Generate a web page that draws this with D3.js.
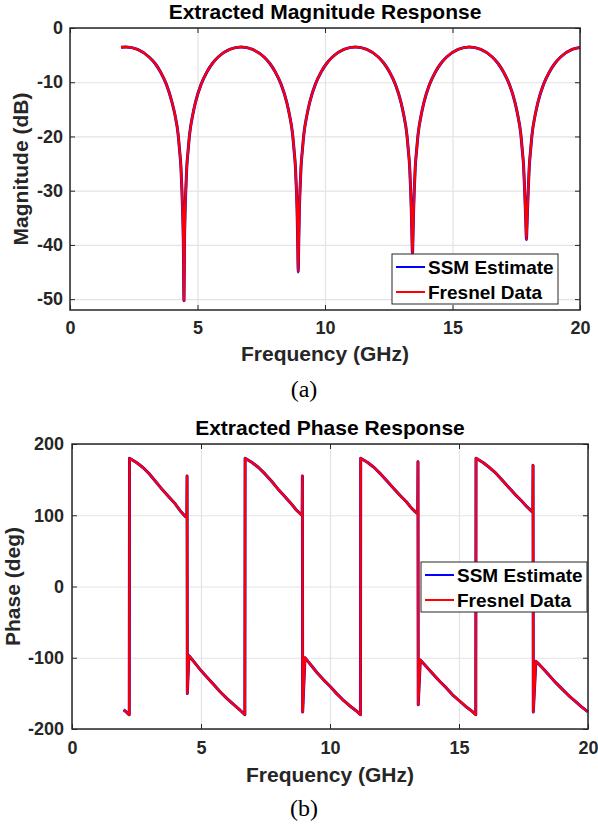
<!DOCTYPE html>
<html>
<head>
<meta charset="utf-8">
<script src="https://cdn.jsdelivr.net/npm/d3@7"></script>
<style>
  body { margin: 0; background: #fff; }
  svg { display: block; }
  text { font-family: "Liberation Sans", Arial, Helvetica, sans-serif; }
  text.caption { font-family: "Liberation Serif", "Times New Roman", serif; }
</style>
</head>
<body>
<svg id="chart" width="598" height="827"></svg>
<script>
// Magnitude response (dB) vs frequency (GHz)
const magFreq = [2.0, 2.2, 2.65, 3.1, 3.33, 3.55, 3.78, 4.0, 4.12, 4.24, 4.30, 4.35, 4.39, 4.415, 4.445, 4.47,
  4.49, 4.515, 4.54, 4.58, 4.63, 4.69, 4.81, 4.92, 5.14, 5.37, 5.59, 5.81, 6.26, 6.71,
  7.16, 7.61, 7.83, 8.05, 8.28, 8.50, 8.61, 8.73, 8.79, 8.84, 8.88, 8.905, 8.93, 8.95,
  8.97, 8.995, 9.02, 9.06, 9.11, 9.17, 9.29, 9.40, 9.62, 9.85, 10.07, 10.29, 10.74, 11.19,
  11.64, 12.09, 12.31, 12.53, 12.76, 12.98, 13.09, 13.21, 13.27, 13.32, 13.36, 13.385, 13.41, 13.43,
  13.45, 13.475, 13.50, 13.54, 13.59, 13.65, 13.77, 13.88, 14.10, 14.33, 14.55, 14.77, 15.22, 15.66,
  16.11, 16.56, 16.78, 17.00, 17.23, 17.45, 17.56, 17.68, 17.74, 17.79, 17.83, 17.855, 17.88, 17.90,
  17.92, 17.945, 17.97, 18.01, 18.06, 18.12, 18.24, 18.35, 18.57, 18.80, 19.02, 19.24, 19.69, 20.0];
const magFresnel = [-3.55, -3.5, -3.95, -5.35, -6.5, -8.1, -10.4, -13.7, -16.1, -19.6, -22.7, -25.6, -30.0, -33.6, -39.6, -50.3,
  -39.6, -33.6, -30.0, -25.6, -22.7, -19.6, -16.1, -13.7, -10.4, -8.1, -6.5, -5.35, -3.95, -3.5,
  -3.95, -5.35, -6.5, -8.1, -10.4, -13.7, -16.1, -19.6, -22.7, -25.6, -30.0, -33.6, -39.6, -45.0,
  -39.6, -33.6, -30.0, -25.6, -22.7, -19.6, -16.1, -13.7, -10.4, -8.1, -6.5, -5.35, -3.95, -3.5,
  -3.95, -5.35, -6.5, -8.1, -10.4, -13.7, -16.1, -19.6, -22.7, -25.6, -30.0, -33.6, -38.5, -41.8,
  -38.5, -33.6, -30.0, -25.6, -22.7, -19.6, -16.1, -13.7, -10.4, -8.1, -6.5, -5.35, -3.95, -3.5,
  -3.95, -5.35, -6.5, -8.1, -10.4, -13.7, -16.1, -19.6, -22.7, -25.6, -30.0, -33.1, -36.5, -39.0,
  -36.5, -33.1, -30.0, -25.6, -22.7, -19.6, -16.1, -13.7, -10.4, -8.1, -6.5, -5.35, -3.95, -3.6];
// SSM estimate lies on top of the Fresnel data everywhere in the figure
const magSSM = magFresnel.slice();

// Phase response (deg) vs frequency (GHz)
const phaseFreq = [2.0, 2.1, 2.2, 2.22, 2.23, 2.5, 2.75, 3.0, 3.25, 3.5, 3.75, 4.0, 4.2, 4.4, 4.45, 4.46, 4.47, 4.53, 4.6, 4.8, 5.0, 5.25, 5.5, 5.75, 6.0, 6.25, 6.5, 6.7,
  6.71, 6.98, 7.23, 7.48, 7.73, 7.98, 8.23, 8.48, 8.68, 8.88, 8.92, 8.93, 8.94, 9.03, 9.1, 9.3, 9.5, 9.75, 10.0, 10.25, 10.5, 10.75, 11.0, 11.18,
  11.19, 11.46, 11.71, 11.96, 12.21, 12.46, 12.71, 12.96, 13.16, 13.36, 13.4, 13.41, 13.42, 13.5, 13.6, 13.8, 14.0, 14.25, 14.5, 14.75, 15.0, 15.25, 15.5, 15.65,
  15.66, 15.93, 16.18, 16.43, 16.68, 16.93, 17.18, 17.43, 17.63, 17.83, 17.86, 17.87, 17.88, 17.98, 18.1, 18.3, 18.5, 18.75, 19.0, 19.25, 19.5, 19.75, 20.0];
const phaseFresnel = [-173, -176, -179.5, -180, 180, 174, 167, 158, 147, 136, 126, 116, 106, 98, 97, 155, -150, -97, -100, -109, -118, -128, -138, -148, -157, -165, -173, -180,
  180, 174, 167, 158, 148, 137, 127, 117, 108, 101, 100, 155, -176, -100, -103, -112, -121, -131, -140, -150, -159, -167, -174, -180,
  180, 174, 167, 158, 148, 138, 128, 119, 110, 103, 102, 175, -166, -103, -107, -115, -123, -133, -142, -152, -160, -168, -175, -180,
  180, 174, 167, 159, 149, 139, 129, 120, 112, 105, 104, 170, -176, -105, -109, -117, -125, -135, -144, -153, -161, -169, -176];
const phaseSSM = phaseFresnel.slice();

const xTicks = [0, 5, 10, 15, 20];
const magTicks = [-50, -40, -30, -20, -10, 0];
const phaseTicks = [-200, -100, 0, 100, 200];
const legendLabels = ["SSM Estimate", "Fresnel Data"];
const seriesColors = ["#0000ff", "#ff0000"];

const AXIS_COLOR = "#262626";
const GRID_COLOR = "#e3e3e3";

const svg = d3.select("#chart");
svg.append("rect").attr("width", 598).attr("height", 827).attr("fill", "#fff");

function drawPanel(cfg){
  const {left, right, top, bottom} = cfg.box;
  const x = d3.scaleLinear().domain([0, 20]).range([left, right]);
  const y = d3.scaleLinear().domain(cfg.yDomain).range([bottom, top]);
  const g = svg.append("g");

  // grid
  g.append("g")
    .attr("transform", `translate(0,${bottom})`)
    .call(d3.axisBottom(x).tickValues(xTicks).tickSize(-(bottom - top)).tickFormat(""))
    .call(a => a.select(".domain").remove())
    .call(a => a.selectAll("line").attr("stroke", GRID_COLOR).attr("stroke-width", 1.2));
  g.append("g")
    .attr("transform", `translate(${left},0)`)
    .call(d3.axisLeft(y).tickValues(cfg.yTicks).tickSize(-(right - left)).tickFormat(""))
    .call(a => a.select(".domain").remove())
    .call(a => a.selectAll("line").attr("stroke", GRID_COLOR).attr("stroke-width", 1.2));

  // data lines, blue underneath red
  const line = d3.line()
    .x((d, i) => x(cfg.freq[i]))
    .y(d => y(d))
    .curve(cfg.curve);
  cfg.series.forEach((vals, k) => {
    g.append("path")
      .attr("d", line(vals))
      .attr("fill", "none")
      .attr("stroke", seriesColors[k])
      .attr("stroke-width", k === 0 ? 3 : 2.4)
      .attr("stroke-linejoin", "round");
  });

  // axes (ticks inward, mirrored on top/right)
  const fmt = d => String(d);
  const styleAxis = a => {
    a.select(".domain").remove();
    a.selectAll("line").attr("stroke", AXIS_COLOR).attr("stroke-width", 1);
    a.selectAll("text")
      .attr("fill", AXIS_COLOR)
      .attr("font-size", 18)
      .attr("font-weight", "bold");
  };
  g.append("g")
    .attr("transform", `translate(0,${bottom})`)
    .call(d3.axisBottom(x).tickValues(xTicks).tickSizeInner(-5).tickSizeOuter(0).tickPadding(cfg.xTickPad).tickFormat(fmt))
    .call(styleAxis);
  g.append("g")
    .attr("transform", `translate(0,${top})`)
    .call(d3.axisTop(x).tickValues(xTicks).tickSizeInner(-5).tickSizeOuter(0).tickFormat(""))
    .call(styleAxis);
  g.append("g")
    .attr("transform", `translate(${left},0)`)
    .call(d3.axisLeft(y).tickValues(cfg.yTicks).tickSizeInner(-5).tickSizeOuter(0).tickPadding(cfg.yTickPad).tickFormat(fmt))
    .call(styleAxis);
  g.append("g")
    .attr("transform", `translate(${right},0)`)
    .call(d3.axisRight(y).tickValues(cfg.yTicks).tickSizeInner(-5).tickSizeOuter(0).tickFormat(""))
    .call(styleAxis);

  g.append("rect")
    .attr("x", left).attr("y", top)
    .attr("width", right - left).attr("height", bottom - top)
    .attr("fill", "none")
    .attr("stroke", AXIS_COLOR)
    .attr("stroke-width", 1.5);

  // title and labels
  g.append("text")
    .attr("x", (left + right) / 2).attr("y", cfg.titleY)
    .attr("text-anchor", "middle")
    .attr("font-size", 21).attr("font-weight", "bold").attr("fill", "#000")
    .text(cfg.title);
  g.append("text")
    .attr("x", (left + right) / 2).attr("y", cfg.xLabelY)
    .attr("text-anchor", "middle")
    .attr("font-size", 21).attr("font-weight", "bold").attr("fill", AXIS_COLOR)
    .text("Frequency (GHz)");
  g.append("text")
    .attr("transform", `translate(${cfg.yLabelX},${(top + bottom) / 2}) rotate(-90)`)
    .attr("text-anchor", "middle")
    .attr("font-size", 21).attr("font-weight", "bold").attr("fill", AXIS_COLOR)
    .text(cfg.yLabel);

  // legend
  const lg = cfg.legend;
  g.append("rect")
    .attr("x", lg.x).attr("y", lg.y)
    .attr("width", lg.w).attr("height", lg.h)
    .attr("fill", "#fff")
    .attr("stroke", AXIS_COLOR)
    .attr("stroke-width", 1);
  legendLabels.forEach((name, k) => {
    const cy = lg.y + 13 + k * 25;
    g.append("line")
      .attr("x1", lg.x + 4).attr("x2", lg.x + 33)
      .attr("y1", cy).attr("y2", cy)
      .attr("stroke", seriesColors[k]).attr("stroke-width", 2);
    g.append("text")
      .attr("x", lg.x + 36).attr("y", cy + 7)
      .attr("font-size", 19).attr("font-weight", "bold").attr("fill", "#000")
      .text(name);
  });

  // caption
  svg.append("text")
    .attr("class", "caption")
    .attr("x", 304).attr("y", cfg.captionY)
    .attr("text-anchor", "middle")
    .attr("font-size", 24).attr("fill", "#000")
    .text(cfg.caption);
}

drawPanel({
  box: {left: 70, right: 580, top: 28, bottom: 310},
  yDomain: [-52, 0],
  yTicks: magTicks,
  freq: magFreq,
  series: [magSSM, magFresnel],
  curve: d3.curveMonotoneX,
  title: "Extracted Magnitude Response",
  titleY: 19,
  yLabel: "Magnitude (dB)",
  yLabelX: 28,
  xLabelY: 361,
  xTickPad: 11,
  yTickPad: 7,
  legend: {x: 392, y: 254, w: 166, h: 50},
  caption: "(a)",
  captionY: 397
});

drawPanel({
  box: {left: 72, right: 588, top: 444, bottom: 729},
  yDomain: [-200, 200],
  yTicks: phaseTicks,
  freq: phaseFreq,
  series: [phaseSSM, phaseFresnel],
  curve: d3.curveLinear,
  title: "Extracted Phase Response",
  titleY: 435,
  yLabel: "Phase (deg)",
  yLabelX: 20,
  xLabelY: 782,
  xTickPad: 12,
  yTickPad: 8,
  legend: {x: 421, y: 562, w: 166, h: 50},
  caption: "(b)",
  captionY: 816
});
</script>
</body>
</html>
